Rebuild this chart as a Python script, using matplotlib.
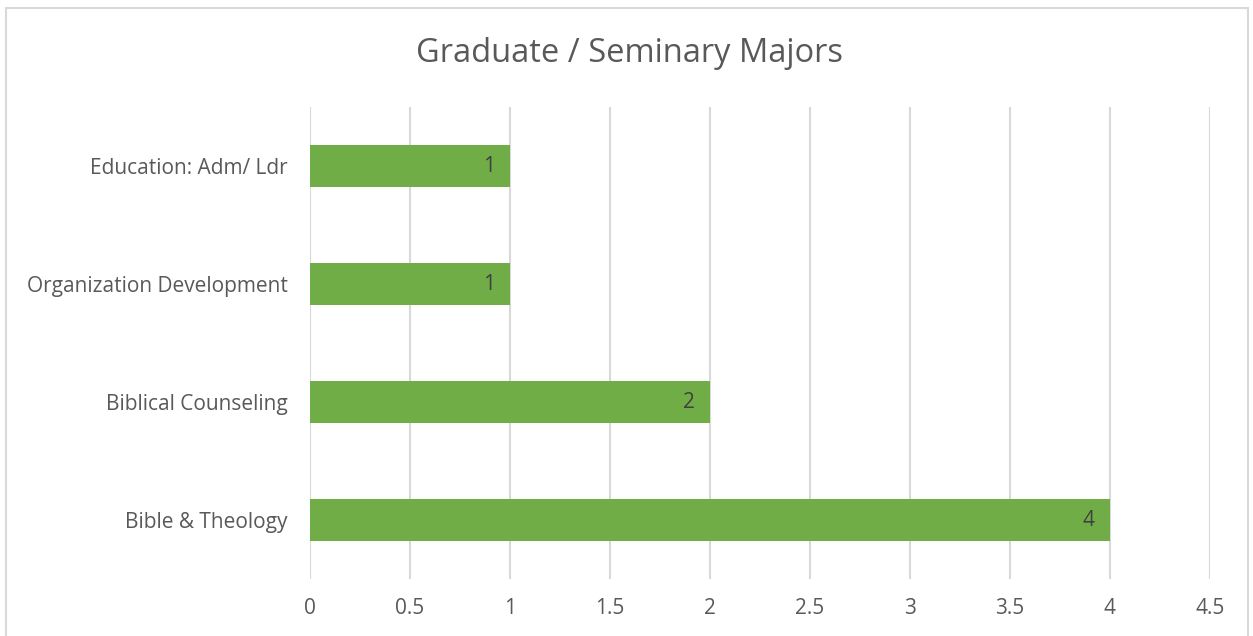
import matplotlib.pyplot as plt
from matplotlib.patches import Rectangle

categories = ["Bible & Theology", "Biblical Counseling", "Organization Development", "Education: Adm/ Ldr"]
values = [4, 2, 1, 1]
xticks = [0, 0.5, 1, 1.5, 2, 2.5, 3, 3.5, 4, 4.5]

plt.rcParams['font.family'] = ['Open Sans', 'DejaVu Sans']
txt = "#595959"

fig = plt.figure(figsize=(12.53, 6.36), dpi=100)
ax = fig.add_axes([310 / 1253, 1 - 579 / 636, 900 / 1253, 472 / 636])

y = list(range(len(categories)))
ax.barh(y, values, height=0.36, color="#70AD47", zorder=3)
for yi, v in zip(y, values):
    ax.annotate(str(v), (v, yi), xytext=(-11, 0), textcoords="offset points",
                ha="right", va="center", fontsize=15, color="#404040", zorder=4)

ax.set_xlim(0, 4.5)
ax.set_ylim(-0.5, len(categories) - 0.5)
ax.set_xticks(xticks)
ax.set_xticklabels([f"{t:g}" for t in xticks])
ax.set_yticks(y)
ax.set_yticklabels(categories)
ax.tick_params(axis="both", length=0, labelsize=15, colors=txt)
ax.tick_params(axis="x", pad=14)
ax.tick_params(axis="y", pad=16)
ax.grid(axis="x", color="#D9D9D9", linewidth=1.5, zorder=0)
for s in ax.spines.values():
    s.set_visible(False)

fig.text(630 / 1253, 1 - 53 / 636, "Graduate / Seminary Majors", ha="center", va="center",
         fontsize=23.5, color=txt)

fig.patches.append(Rectangle((6 / 1253, -0.1), 1242 / 1253, 1.1 - 8 / 636, transform=fig.transFigure,
                             fill=False, edgecolor="#D9D9D9", linewidth=1.5))

fig.savefig("out.png", dpi=100)
